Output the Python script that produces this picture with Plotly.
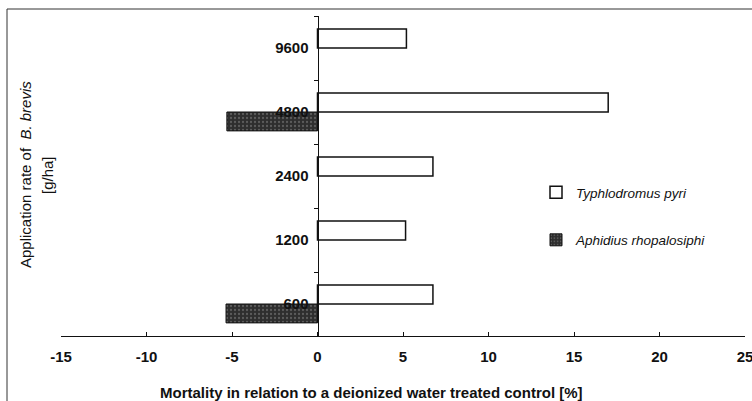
import plotly.graph_objects as go

rates = ["600", "1200", "2400", "4800", "9600"]
typhlodromus_pyri = [6.75, 5.15, 6.75, 17.0, 5.2]
aphidius_rhopalosiphi = [-5.35, None, None, -5.3, None]

x_ticks = [-15, -10, -5, 0, 5, 10, 15, 20, 25]

FONT = "Liberation Sans, Arial, sans-serif"

fig = go.Figure()
fig.add_trace(go.Bar(
    y=rates, x=aphidius_rhopalosiphi, orientation="h",
    name="<i>Aphidius rhopalosiphi</i>",
    marker=dict(color="#333333", line=dict(color="#111111", width=1),
                pattern=dict(shape=".", fgcolor="#8a8a8a", bgcolor="#2e2e2e", size=4, solidity=0.25)),
    legendgroup="a", legendrank=2,
))
fig.add_trace(go.Bar(
    y=rates, x=typhlodromus_pyri, orientation="h",
    name="<i>Typhlodromus pyri</i>",
    marker=dict(color="white", line=dict(color="#111111", width=1.5)),
    legendgroup="t", legendrank=1,
))

L, R, T, B = 61, 7, 16, 65
W, H = 752, 401
pw, ph = W - L - R, H - T - B

def px_x(x):
    return (x - L) / pw

def px_y(y):
    return (H - B - y) / ph

fig.update_layout(
    width=W, height=H,
    margin=dict(l=L, r=R, t=T, b=B, autoexpand=False),
    paper_bgcolor="white", plot_bgcolor="white",
    barmode="group", bargap=0.41, bargroupgap=0,
    font=dict(family=FONT, size=14, color="#111111"),
    xaxis=dict(
        range=[-15, 25], tickvals=x_ticks, ticktext=[f"<b>{v}</b>" for v in x_ticks],
        showline=True, linecolor="#111111", linewidth=1,
        ticks="inside", ticklen=4, tickcolor="#111111",
        showgrid=False, zeroline=False, fixedrange=True,
        tickfont=dict(size=15), ticklabeloverflow="allow", ticklabelstandoff=7,
    ),
    yaxis=dict(
        type="category", categoryorder="array", categoryarray=rates,
        range=[-0.5, 4.5],
        anchor="free", position=15 / 40,
        tickvals=rates, ticktext=[f"<b>{r}</b>" for r in rates],
        showline=True, linecolor="#111111", linewidth=1,
        ticks="outside", ticklen=4, tickcolor="#111111", tickson="boundaries",
        showgrid=False, zeroline=False, automargin=False,
        tickfont=dict(size=15), ticklabelstandoff=6, fixedrange=True,
    ),
    showlegend=True,
    legend=dict(
        x=px_x(536), y=px_y(216.5), xanchor="left", yanchor="middle",
        bgcolor="rgba(0,0,0,0)", traceorder="grouped", tracegroupgap=27,
        font=dict(size=13.5, family=FONT),
    ),
    annotations=[
        dict(text="Application rate of  <i>B. brevis</i>", x=px_x(25), y=px_y(175),
             xref="paper", yref="paper", textangle=-90, showarrow=False,
             font=dict(size=15), xanchor="center", yanchor="middle"),
        dict(text="[g/ha]", x=px_x(47), y=px_y(175),
             xref="paper", yref="paper", textangle=-90, showarrow=False,
             font=dict(size=15), xanchor="center", yanchor="middle"),
        dict(text="<b>Mortality in relation to a deionized water treated control [%]</b>",
             x=px_x(371), y=px_y(392), xref="paper", yref="paper", showarrow=False,
             font=dict(size=15), xanchor="center", yanchor="middle"),
    ],
    shapes=[
        dict(type="line", xref="paper", yref="paper", x0=px_x(7), x1=px_x(7),
             y0=px_y(9), y1=px_y(401), line=dict(color="#333333", width=1)),
        dict(type="line", xref="paper", yref="paper", x0=px_x(7), x1=px_x(752),
             y0=px_y(9), y1=px_y(9), line=dict(color="#333333", width=1)),
    ],
)

fig.write_html("out.html", config={"displayModeBar": False},
               post_script="document.body.style.margin='0';document.body.style.padding='0';")
